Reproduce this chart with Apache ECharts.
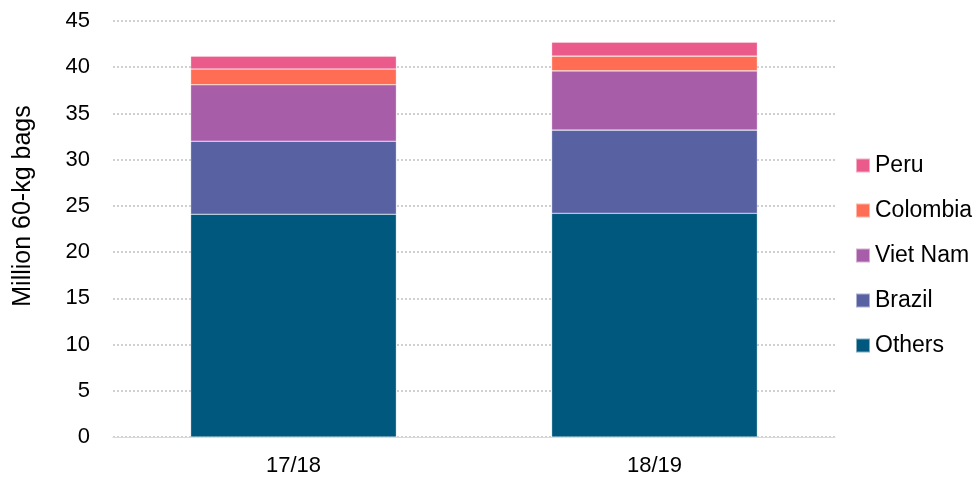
<!DOCTYPE html>
<html>
<head>
<meta charset="utf-8">
<script src="https://cdn.jsdelivr.net/npm/echarts@6/dist/echarts.min.js"></script>
<style>
  html, body { margin: 0; padding: 0; background: #fff; }
  #chart { width: 977px; height: 479px; }
</style>
</head>
<body>
<div id="chart"></div>
<script>
const categories = ['17/18', '18/19'];
const others = [24.1, 24.2];
const brazil = [7.9, 9.0];
const vietNam = [6.1, 6.4];
const colombia = [1.7, 1.6];
const peru = [1.4, 1.5];

const colors = {
  Others: '#00587e',
  Brazil: '#5861a2',
  'Viet Nam': '#a85da8',
  Colombia: '#ff6e54',
  Peru: '#ea5a8b'
};

const chart = echarts.init(document.getElementById('chart'), null, { renderer: 'canvas' });

function bar(name, data) {
  return {
    name: name,
    type: 'bar',
    stack: 'total',
    barWidth: '57%',
    data: data,
    itemStyle: { color: colors[name], borderColor: 'rgba(255,255,255,0.5)', borderWidth: 0.6 },
    emphasis: { disabled: true }
  };
}

chart.setOption({
  animation: false,
  textStyle: { fontFamily: 'Liberation Sans, Arial, sans-serif' },
  grid: { left: 113, right: 142, top: 21, bottom: 42 },
  legend: {
    orient: 'vertical',
    left: 850,
    top: 149,
    itemWidth: 14,
    itemHeight: 14,
    itemGap: 22,
    icon: 'rect',
    textStyle: { fontSize: 23, lineHeight: 23, color: '#000' },
    data: ['Peru', 'Colombia', 'Viet Nam', 'Brazil', 'Others']
  },
  xAxis: {
    type: 'category',
    data: categories,
    axisTick: { show: false },
    axisLine: { lineStyle: { color: '#d9d9d9', width: 1 } },
    axisLabel: { fontSize: 22, color: '#000', margin: 18 }
  },
  yAxis: {
    type: 'value',
    min: 0,
    max: 45,
    interval: 5,
    name: 'Million 60-kg bags',
    nameLocation: 'middle',
    nameGap: 77,
    nameRotate: 90,
    nameTextStyle: { fontSize: 25, color: '#000', padding: [0, 0, 0, 46] },
    axisLine: { show: false },
    axisTick: { show: false },
    axisLabel: { fontSize: 22, color: '#000', margin: 23 },
    splitLine: { lineStyle: { color: '#d0d0d0', type: [2, 2], width: 2 } }
  },
  series: [
    bar('Others', others),
    bar('Brazil', brazil),
    bar('Viet Nam', vietNam),
    bar('Colombia', colombia),
    bar('Peru', peru)
  ]
});
</script>
</body>
</html>
